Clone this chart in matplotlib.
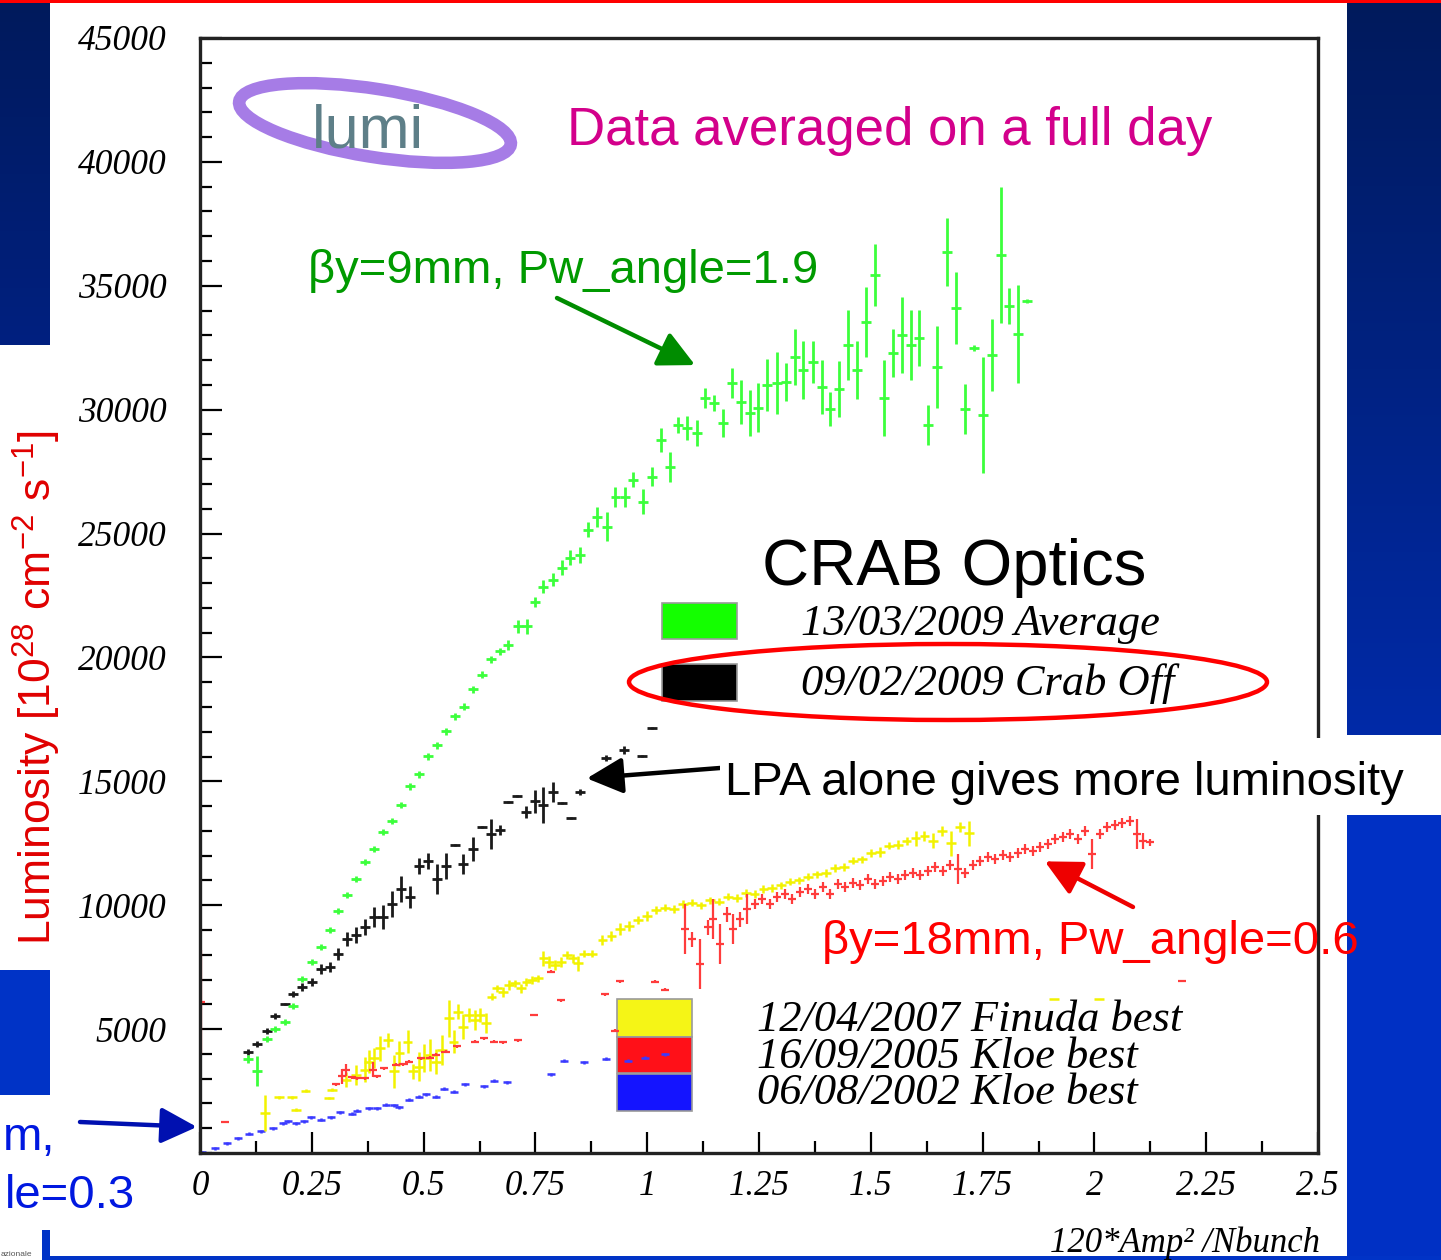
import numpy as np
import matplotlib
matplotlib.use('Agg')
import matplotlib.pyplot as plt
from matplotlib.patches import Rectangle, Ellipse
from matplotlib.ticker import MultipleLocator

plt.rcParams['font.family'] = ['Liberation Sans', 'DejaVu Sans']
plt.rcParams['mathtext.fontset'] = 'custom'
plt.rcParams['mathtext.rm'] = 'Liberation Sans'
plt.rcParams['mathtext.it'] = 'Liberation Sans:italic'

# ---- data ----
# 13/03/2009 Average (crab on)
green_x = [0.107, 0.127, 0.150, 0.168, 0.190, 0.208, 0.228, 0.250, 0.271, 0.291,
           0.309, 0.329, 0.349, 0.369, 0.389, 0.409, 0.429, 0.449, 0.470, 0.490,
           0.510, 0.530, 0.550, 0.570, 0.590, 0.610, 0.631, 0.651, 0.671, 0.689,
           0.711, 0.731, 0.749, 0.767, 0.789, 0.809, 0.827, 0.850, 0.868, 0.888,
           0.910, 0.929, 0.950, 0.968, 0.991, 1.011, 1.031, 1.051, 1.069, 1.089,
           1.111, 1.129, 1.149, 1.170, 1.190, 1.210, 1.230, 1.248, 1.268, 1.290,
           1.310, 1.330, 1.348, 1.371, 1.391, 1.409, 1.429, 1.449, 1.469, 1.489,
           1.509, 1.530, 1.550, 1.570, 1.590, 1.608, 1.628, 1.648, 1.670, 1.690,
           1.711, 1.731, 1.751, 1.771, 1.791, 1.809, 1.829, 1.849]
green_y = [3790, 3310, 4600, 5000, 5280, 5930, 7020, 7700, 8310, 8990,
           9760, 10400, 11050, 11730, 12260, 12940, 13390, 14030, 14800, 15280,
           16010, 16450, 17020, 17620, 18020, 18710, 19310, 19920, 20240, 20520,
           21250, 21250, 22220, 22860, 23140, 23630, 24030, 24150, 25160, 25680,
           25280, 26490, 26490, 27180, 26290, 27300, 28790, 27700, 29390, 29270,
           29070, 30480, 30280, 29470, 31090, 30320, 29880, 30080, 31010, 31090,
           31130, 32140, 31610, 31930, 30930, 30040, 30850, 32620, 31610, 33550,
           35440, 30480, 32300, 33020, 32620, 32900, 29390, 31730, 36370, 34110,
           30040, 32500, 29800, 32220, 36250, 34190, 33060, 34390]
green_err = [150, 600, 120, 120, 120, 120, 120, 120, 120, 120,
             120, 120, 120, 120, 120, 120, 120, 120, 150, 150,
             150, 150, 150, 150, 150, 150, 150, 150, 150, 200,
             250, 300, 200, 250, 250, 300, 300, 320, 300, 400,
             600, 400, 400, 320, 520, 400, 480, 600, 320, 480,
             520, 400, 320, 560, 600, 890, 930, 1000, 1050, 1250,
             770, 1130, 1170, 850, 1090, 690, 1130, 1410, 1170, 1410,
             1250, 1530, 970, 1530, 1410, 1130, 810, 1650, 1370, 1450,
             1010, 120, 2340, 1450, 2740, 730, 1980, 80]

# 09/02/2009 Crab Off
black_x = [0.107, 0.127, 0.150, 0.168, 0.190, 0.208, 0.228, 0.250, 0.271, 0.291,
           0.309, 0.329, 0.349, 0.369, 0.389, 0.409, 0.429, 0.449, 0.470, 0.490,
           0.510, 0.530, 0.550, 0.570, 0.588, 0.610, 0.631, 0.651, 0.671, 0.689,
           0.709, 0.729, 0.749, 0.767, 0.789, 0.809, 0.830, 0.850, 0.908, 0.948,
           0.988, 1.011]
black_y = [4070, 4400, 4920, 5520, 6010, 6410, 6690, 6900, 7420, 7500,
           8020, 8630, 8790, 9110, 9520, 9520, 10040, 10640, 10320, 11570,
           11770, 11050, 11570, 12420, 11650, 12260, 13140, 12860, 13020, 14150,
           14390, 13750, 14190, 14030, 14560, 14110, 13510, 14560, 15930, 16250,
           16010, 17140]
black_err = [120, 120, 120, 120, 40, 120, 160, 160, 200, 200,
             240, 280, 320, 320, 400, 480, 520, 520, 440, 320,
             320, 600, 520, 40, 400, 480, 40, 600, 200, 40,
             40, 240, 480, 730, 400, 40, 40, 120, 120, 160,
             40, 40]

# 12/04/2007 Finuda best
yellow_x = [0.146, 0.176, 0.206, 0.215, 0.236, 0.288, 0.296, 0.326, 0.348, 0.369,
            0.378, 0.390, 0.403, 0.420, 0.433, 0.446, 0.464, 0.476, 0.489, 0.502,
            0.515, 0.528, 0.541, 0.556, 0.567, 0.577, 0.588, 0.601, 0.614, 0.627,
            0.639, 0.652, 0.665, 0.678, 0.691, 0.704, 0.717, 0.730, 0.742, 0.755,
            0.768, 0.781, 0.794, 0.807, 0.820, 0.833, 0.845, 0.858, 0.876,
            0.90, 0.92, 0.94, 0.96, 0.98, 1.00, 1.02, 1.04, 1.06, 1.08,
            1.10, 1.12, 1.14, 1.16, 1.18, 1.20, 1.22, 1.24, 1.26, 1.28,
            1.30, 1.32, 1.34, 1.36, 1.38, 1.40, 1.42, 1.44, 1.46, 1.48,
            1.50, 1.52, 1.54, 1.56, 1.58, 1.60, 1.62, 1.64, 1.66, 1.68,
            1.70, 1.72, 1.91, 2.01]
yellow_y = [1610, 2240, 2240, 1750, 2510, 2220, 2550, 2950, 3150, 3360,
            3690, 3830, 4230, 4560, 3290, 4030, 4500, 3290, 3490, 3830,
            3960, 3690, 4160, 5440, 4500, 5700, 5100, 5570, 5370, 5570,
            5240, 6310, 6640, 6510, 6780, 6850, 6640, 6910, 6980, 7050,
            7850, 7720, 7580, 7720, 7990, 7850, 7650, 8050, 8050,
            8600, 8750, 9050, 9150, 9400, 9550, 9800, 9900, 9850, 10050,
            10100, 10000, 10200, 10150, 10350, 10300, 10500, 10450, 10650, 10700,
            10800, 10950, 11000, 11150, 11250, 11300, 11500, 11550, 11800, 11850,
            12100, 12150, 12400, 12450, 12600, 12700, 12800, 12600, 13000, 12500,
            13150, 12900, 6200, 6200]
yellow_err = [740, 60, 60, 60, 60, 60, 60, 300, 400, 500,
              450, 400, 500, 300, 670, 500, 450, 300, 600, 550,
              650, 500, 600, 740, 450, 300, 500, 300, 400, 300,
              400, 150, 150, 200, 200, 150, 200, 150, 150, 150,
              300, 250, 200, 200, 150, 200, 300, 150, 150,
              200, 200, 250, 200, 150, 200, 150, 150, 150, 150,
              150, 150, 150, 150, 150, 150, 150, 150, 150, 150,
              150, 150, 150, 150, 150, 150, 150, 150, 150, 150,
              150, 200, 150, 200, 150, 300, 200, 300, 200, 500,
              200, 500, 0, 0]

# 16/09/2005 Kloe best
red_x = [0.003, 0.056, 0.305, 0.318, 0.326, 0.339, 0.352, 0.369, 0.386, 0.395,
         0.412, 0.438, 0.455, 0.468, 0.494, 0.515, 0.528, 0.549, 0.575, 0.614,
         0.635, 0.657, 0.678, 0.712, 0.747, 0.785, 0.807, 0.906, 0.927, 0.940,
         1.017, 1.039,
         1.085, 1.100, 1.118, 1.136, 1.147, 1.163, 1.178, 1.192, 1.208, 1.223,
         1.241, 1.257, 1.275, 1.290, 1.308, 1.324, 1.342, 1.360, 1.375, 1.393,
         1.409, 1.427, 1.442, 1.460, 1.476, 1.494, 1.509, 1.527, 1.543, 1.561,
         1.576, 1.594, 1.610, 1.628, 1.644, 1.661, 1.677, 1.695, 1.711, 1.729,
         1.744, 1.762, 1.778, 1.796, 1.811, 1.829, 1.845, 1.863, 1.878, 1.896,
         1.912, 1.930, 1.945, 1.963, 1.979, 1.995, 2.013, 2.028, 2.046, 2.062,
         2.080, 2.095, 2.109, 2.124, 2.196]
red_y = [6100, 1240, 2780, 3090, 3360, 3050, 3020, 3020, 3360, 3090,
         3420, 3560, 3580, 3690, 3830, 3850, 3960, 4090, 4300, 4500,
         4630, 4500, 4470, 4560, 5570, 7320, 6170, 6400, 4930, 6940,
         6910, 6580,
         9030, 8630, 7620, 9110, 9440, 8430, 9640, 9030, 9440, 9840,
         10040, 10240, 10040, 10320, 10440, 10240, 10520, 10650, 10440, 10730,
         10440, 10850, 10730, 10890, 10810, 11050, 10850, 10970, 11130, 11050,
         11210, 11290, 11210, 11370, 11530, 11370, 11610, 11450, 11290, 11610,
         11770, 11940, 11850, 12020, 11940, 12100, 12260, 12180, 12340, 12460,
         12660, 12740, 12860, 12660, 12980, 12060, 12860, 13140, 13230, 13310,
         13390, 12860, 12580, 12540, 6940]
red_err = [2100, 0, 60, 300, 250, 60, 60, 60, 300, 60,
           60, 60, 60, 60, 60, 60, 60, 60, 60, 60,
           60, 60, 60, 60, 60, 60, 60, 60, 60, 60,
           60, 60,
           1000, 300, 1000, 300, 800, 800, 300, 600, 300, 600,
           200, 200, 200, 200, 200, 200, 200, 200, 200, 200,
           200, 200, 200, 200, 200, 200, 200, 200, 200, 200,
           200, 200, 200, 200, 200, 200, 200, 600, 200, 200,
           200, 200, 200, 200, 200, 200, 200, 200, 200, 200,
           200, 200, 200, 200, 200, 600, 200, 200, 200, 200,
           200, 600, 320, 150, 0]

# 06/08/2002 Kloe best
blue_x = [0.005, 0.034, 0.060, 0.086, 0.110, 0.137, 0.163, 0.185, 0.197, 0.215,
          0.232, 0.249, 0.270, 0.292, 0.313, 0.339, 0.352, 0.378, 0.395, 0.416,
          0.433, 0.446, 0.468, 0.489, 0.506, 0.528, 0.545, 0.567, 0.592, 0.635,
          0.657, 0.687, 0.785, 0.815, 0.858, 0.908, 0.957, 0.996, 1.039]
blue_y = [30, 200, 400, 600, 770, 870, 1000, 1200, 1280, 1200,
          1280, 1440, 1340, 1440, 1640, 1580, 1700, 1810, 1810, 1950,
          1920, 1840, 2150, 2280, 2380, 2280, 2590, 2480, 2780, 2690,
          2910, 2850, 3180, 3730, 3660, 3800, 3720, 3850, 3990]
blue_err = 60

x_ticks = [0, 0.25, 0.5, 0.75, 1, 1.25, 1.5, 1.75, 2, 2.25, 2.5]
x_tick_labels = ['0', '0.25', '0.5', '0.75', '1', '1.25', '1.5', '1.75', '2', '2.25', '2.5']
y_ticks = [5000, 10000, 15000, 20000, 25000, 30000, 35000, 40000, 45000]
y_tick_labels = ['5000', '10000', '15000', '20000', '25000', '30000', '35000', '40000', '45000']

legend_top = ['13/03/2009 Average', '09/02/2009 Crab Off']
legend_bottom = ['12/04/2007 Finuda best', '16/09/2005 Kloe best', '06/08/2002 Kloe best']

# ---- figure ----
W, H = 1441, 1260
fig = plt.figure(figsize=(W / 100, H / 100), dpi=100)
fig.patch.set_facecolor('white')


def fx(px):
    return px / W


def fy(py):
    return 1 - py / H


ax = fig.add_axes([fx(200), fy(1153), fx(1318) - fx(200), fy(38) - fy(1153)])
ax.set_xlim(0, 2.5)
ax.set_ylim(0, 45000)

XERR = 0.011
ax.errorbar(blue_x, blue_y, yerr=blue_err, xerr=0.009, fmt='none', ecolor='#3a3aff', elinewidth=1.8, zorder=2)
ax.errorbar(yellow_x, yellow_y, yerr=yellow_err, xerr=XERR, fmt='none', ecolor='#f2f200', elinewidth=1.8, zorder=2)
ax.errorbar(red_x, red_y, yerr=red_err, xerr=0.009, fmt='none', ecolor='#ff3c3c', elinewidth=1.6, zorder=2)
ax.errorbar(black_x, black_y, yerr=black_err, xerr=XERR, fmt='none', ecolor='#1a1a1a', elinewidth=2.0, zorder=2)
ax.errorbar(green_x, green_y, yerr=green_err, xerr=XERR, fmt='none', ecolor='#3cff3c', elinewidth=2.0, zorder=2)

ax.set_xticks(x_ticks)
ax.set_xticklabels(x_tick_labels, fontfamily='Liberation Serif', style='italic', fontsize=25)
ax.set_yticks(y_ticks)
ax.set_yticklabels(y_tick_labels, fontfamily='Liberation Serif', style='italic', fontsize=25.5)
ax.xaxis.set_minor_locator(MultipleLocator(0.125))
ax.yaxis.set_minor_locator(MultipleLocator(1000))
ax.tick_params(axis='both', which='both', direction='in', top=False, right=False, width=1.6)
ax.tick_params(axis='y', which='major', length=16, pad=24)
ax.tick_params(axis='y', which='minor', length=8.5)
ax.tick_params(axis='x', which='major', length=15, pad=12)
ax.tick_params(axis='x', which='minor', length=9)
for sp in ax.spines.values():
    sp.set_linewidth(2.4)
    sp.set_color('#222222')

# legend boxes (inside the frame, under the markers)
box_style = dict(transform=fig.transFigure, edgecolor='#9a9a9a', linewidth=1.2, zorder=1)
ax.add_patch(Rectangle((fx(662), fy(639)), fx(737) - fx(662), fy(603) - fy(639), facecolor='#14ff00', **box_style))
ax.add_patch(Rectangle((fx(662), fy(701)), fx(737) - fx(662), fy(664) - fy(701), facecolor='#000000', **box_style))
ax.add_patch(Rectangle((fx(617), fy(1037)), fx(692) - fx(617), fy(999) - fy(1037), facecolor='#f5f516', **box_style))
ax.add_patch(Rectangle((fx(617), fy(1073)), fx(692) - fx(617), fy(1037) - fy(1073), facecolor='#ff1018', **box_style))
ax.add_patch(Rectangle((fx(617), fy(1111)), fx(692) - fx(617), fy(1074) - fy(1111), facecolor='#1414ff', **box_style))

# legend text
fig.text(fx(762), fy(585), 'CRAB Optics', fontsize=47, color='black', va='baseline')
serif_it = dict(fontfamily='Liberation Serif', style='italic', color='black', va='baseline')
fig.text(fx(801), fy(635), legend_top[0], fontsize=32, **serif_it)
fig.text(fx(801), fy(695), legend_top[1], fontsize=32, **serif_it)
fig.text(fx(757), fy(1031), legend_bottom[0], fontsize=32, **serif_it)
fig.text(fx(757), fy(1068), legend_bottom[1], fontsize=32, **serif_it)
fig.text(fx(757), fy(1104), legend_bottom[2], fontsize=32, **serif_it)

fig.add_artist(Ellipse((fx(948), fy(682)), fx(638), 76 / H, transform=fig.transFigure,
                       fill=False, edgecolor='#ff0000', linewidth=3.2, zorder=3))

# lumi logo
fig.add_artist(Ellipse((375, H - 123), 275, 68, angle=-9, transform=matplotlib.transforms.IdentityTransform(),
                       fill=False, edgecolor='#a67ce6', linewidth=9, zorder=3))
fig.text(fx(368), fy(147), 'lumi', fontsize=44, color='#5e7f88', ha='center', va='baseline', zorder=4)

# axis titles
fig.text(fx(37), fy(688), 'Luminosity [10$^{28}$ cm$^{-2}$ s$^{-1}$]', rotation=90,
         color='#e00000', fontsize=32, ha='center', va='center')
fig.text(fx(1320), fy(1252), '120*Amp² /Nbunch', ha='right', va='baseline',
         fontfamily='Liberation Serif', style='italic', fontsize=25)

# slide background bars
def vgrad(top, bottom, h, w):
    c = np.linspace(np.array(top) / 255, np.array(bottom) / 255, h)
    return np.repeat(c[:, None, :], w, axis=1)


fig.figimage(vgrad((0, 26, 92), (0, 32, 128), 342, 50), xo=0, yo=H - 345, origin='upper', zorder=1)
fig.figimage(vgrad((0, 26, 92), (0, 42, 168), 732, 94), xo=1347, yo=H - 735, origin='upper', zorder=1)
bar = dict(transform=fig.transFigure, edgecolor='none', zorder=1)
fig.add_artist(Rectangle((fx(1347), 0), fx(1441) - fx(1347), fy(815), facecolor='#0030c4', **bar))
fig.add_artist(Rectangle((0, fy(1095)), fx(50), fy(970) - fy(1095), facecolor='#0033c6', **bar))
fig.add_artist(Rectangle((0, fy(3)), 1, 3 / H, facecolor='#ff0000', **bar))
fig.add_artist(Rectangle((fx(42), 0), 1 - fx(42), 4 / H, facecolor='#0033c6', **bar))
fig.add_artist(Rectangle((fx(42), 0), 8 / W, 30 / H, facecolor='#0033c6', **bar))
fig.add_artist(Rectangle((fx(720), fy(815)), 1 - fx(720), fy(738) - fy(815),
                         transform=fig.transFigure, facecolor='white', edgecolor='none', zorder=2))
fig.text(fx(1), fy(1255), 'azionale', fontsize=6, color='#555555', va='center')

# annotations
fig.text(fx(567), fy(145), 'Data averaged on a full day', color='#d3008b', fontsize=38, va='baseline')
fig.text(fx(308), fy(283), 'βy=9mm, Pw_angle=1.9', color='#009a00', fontsize=34, va='baseline')
fig.text(fx(725), fy(795), 'LPA alone gives more luminosity', color='black', fontsize=34, va='baseline', zorder=4)
fig.text(fx(822), fy(954), 'βy=18mm, Pw_angle=0.6', color='#ff0000', fontsize=34, va='baseline', zorder=4)
fig.text(fx(55), fy(1150), 'm,', color='#0018e0', fontsize=34, ha='right', va='baseline', zorder=4)
fig.text(fx(135), fy(1208), 'le=0.3', color='#0018e0', fontsize=34, ha='right', va='baseline', zorder=4)

arrow = dict(arrowstyle='-|>,head_length=1.0,head_width=0.5', linewidth=3.2, mutation_scale=22, shrinkA=0, shrinkB=0)
ax.annotate('', xy=(1.107, 31800), xytext=(fx(557), fy(298)), textcoords='figure fraction',
            arrowprops=dict(color='#008c00', **arrow), annotation_clip=False)
ax.annotate('', xy=(0.865, 15120), xytext=(fx(720), fy(768)), textcoords='figure fraction',
            arrowprops=dict(color='black', **arrow), annotation_clip=False)
ax.annotate('', xy=(1.889, 11770), xytext=(fx(1133), fy(907)), textcoords='figure fraction',
            arrowprops=dict(color='#ee0000', **arrow), annotation_clip=False)
ax.annotate('', xy=(-0.007, 1050), xytext=(fx(80), fy(1122)), textcoords='figure fraction',
            arrowprops=dict(color='#0010b0', **arrow), annotation_clip=False)

fig.savefig('out.png', dpi=100)
